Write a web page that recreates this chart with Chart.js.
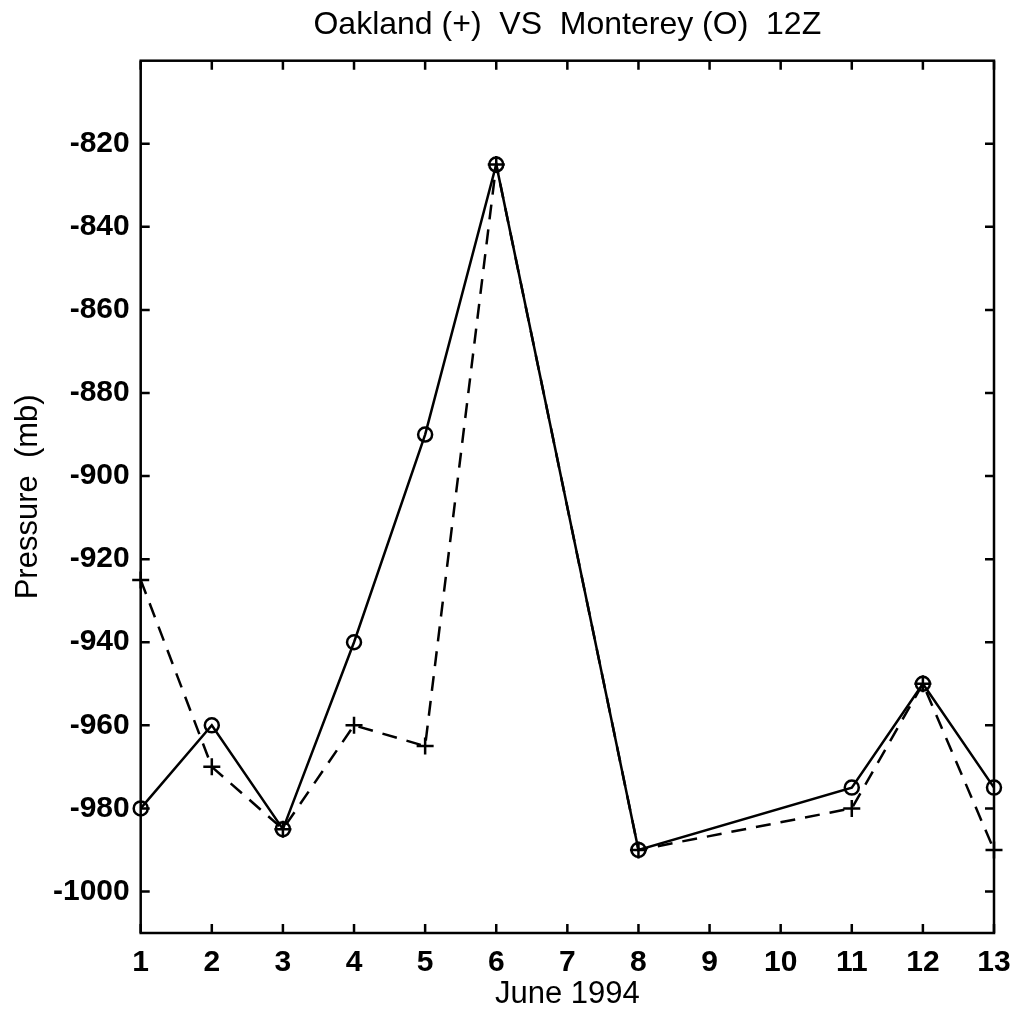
<!DOCTYPE html>
<html>
<head>
<meta charset="utf-8">
<script src="https://cdn.jsdelivr.net/npm/chart.js@4/dist/chart.umd.min.js"></script>
<style>
  html, body { margin: 0; padding: 0; background: #ffffff; }
  #wrap { width: 1017px; height: 1018px; position: relative; }
</style>
</head>
<body>
<div id="wrap"><canvas id="c"></canvas></div>
<script>
// ---- data ----
const days = [1, 2, 3, 4, 5, 6, 8, 11, 12, 13];
const oakland = [-925, -970, -985, -960, -965, -825, -990, -980, -950, -990];
const monterey = [-980, -960, -985, -940, -890, -825, -990, -975, -950, -975];
const xTicks = [1, 2, 3, 4, 5, 6, 7, 8, 9, 10, 11, 12, 13];
const yTicks = [-1000, -980, -960, -940, -920, -900, -880, -860, -840, -820];
const titleText = 'Oakland (+)  VS  Monterey (O)  12Z';
const xTitle = 'June 1994';
const yTitle = 'Pressure  (mb)';

const FONT = "'Liberation Sans', Arial, Helvetica, sans-serif";

const pts = (vals) => days.map((d, i) => ({ x: d, y: vals[i] }));

// title centred over the plot area
const plotTitle = {
  id: 'plotTitle',
  afterDraw(chart) {
    const { ctx, chartArea: a } = chart;
    ctx.save();
    ctx.fillStyle = '#000';
    ctx.font = "32px " + FONT;
    ctx.textAlign = 'center';
    ctx.textBaseline = 'middle';
    ctx.fillText(titleText, (a.left + a.right) / 2, 25);
    ctx.restore();
  }
};

// inward tick marks on all four sides + frame
const frame = {
  id: 'frame',
  afterDatasetsDraw(chart) {
    const { ctx, chartArea: a, scales } = chart;
    ctx.save();
    ctx.strokeStyle = '#000';
    ctx.lineWidth = 2.5;
    const L = 9;
    ctx.beginPath();
    scales.x.ticks.forEach(t => {
      const px = scales.x.getPixelForValue(t.value);
      ctx.moveTo(px, a.bottom); ctx.lineTo(px, a.bottom - L);
      ctx.moveTo(px, a.top); ctx.lineTo(px, a.top + L);
    });
    scales.y.ticks.forEach(t => {
      const py = scales.y.getPixelForValue(t.value);
      ctx.moveTo(a.left, py); ctx.lineTo(a.left + L, py);
      ctx.moveTo(a.right, py); ctx.lineTo(a.right - L, py);
    });
    ctx.stroke();
    ctx.strokeRect(a.left, a.top, a.right - a.left, a.bottom - a.top);
    ctx.restore();
  }
};

new Chart(document.getElementById('c'), {
  type: 'line',
  data: {
    datasets: [
      {
        label: 'Oakland',
        data: pts(oakland),
        borderColor: '#000',
        borderWidth: 2.5,
        borderDash: [15, 10],
        pointStyle: 'cross',
        pointRadius: 8.5,
        pointBorderWidth: 2.5,
        pointBorderColor: '#000',
        pointBackgroundColor: 'rgba(0,0,0,0)',
        tension: 0,
        clip: false
      },
      {
        label: 'Monterey',
        data: pts(monterey),
        borderColor: '#000',
        borderWidth: 2.5,
        pointStyle: 'circle',
        pointRadius: 7,
        pointBorderWidth: 2.5,
        pointBorderColor: '#000',
        pointBackgroundColor: 'rgba(0,0,0,0)',
        tension: 0,
        clip: false
      }
    ]
  },
  options: {
    responsive: true,
    maintainAspectRatio: false,
    animation: false,
    devicePixelRatio: 1,
    layout: { padding: { left: 0, right: 23, top: 60.7, bottom: 0 } },
    plugins: {
      legend: { display: false },
      tooltip: { enabled: false },
      title: { display: false }
    },
    scales: {
      x: {
        type: 'linear',
        min: 1, max: 13,
        afterBuildTicks: (s) => { s.ticks = xTicks.map(v => ({ value: v })); },
        afterFit: (s) => { s.height = 85; s.paddingLeft = 0; s.paddingRight = 0; },
        grid: { display: false, drawTicks: false },
        border: { display: false },
        ticks: {
          color: '#000',
          padding: 12,
          autoSkip: false,
          maxRotation: 0,
          font: { family: FONT, size: 30, weight: 'bold' },
          callback: (v) => String(v)
        },
        title: {
          display: true,
          text: xTitle,
          color: '#000',
          font: { family: FONT, size: 31, lineHeight: 1.2 },
          padding: { top: 0, bottom: 5 }
        }
      },
      y: {
        type: 'linear',
        min: -1010, max: -800,
        afterBuildTicks: (s) => { s.ticks = yTicks.map(v => ({ value: v })); },
        afterFit: (s) => { s.width = 140.7; s.paddingTop = 0; s.paddingBottom = 0; },
        grid: { display: false, drawTicks: false },
        border: { display: false },
        ticks: {
          color: '#000',
          padding: 11,
          font: { family: FONT, size: 30, weight: 'bold' },
          callback: (v) => String(v)
        },
        title: {
          display: true,
          text: yTitle,
          color: '#000',
          font: { family: FONT, size: 31, lineHeight: 1.2 },
          padding: { top: 10, bottom: 0 }
        }
      }
    }
  },
  plugins: [frame, plotTitle]
});
</script>
</body>
</html>
